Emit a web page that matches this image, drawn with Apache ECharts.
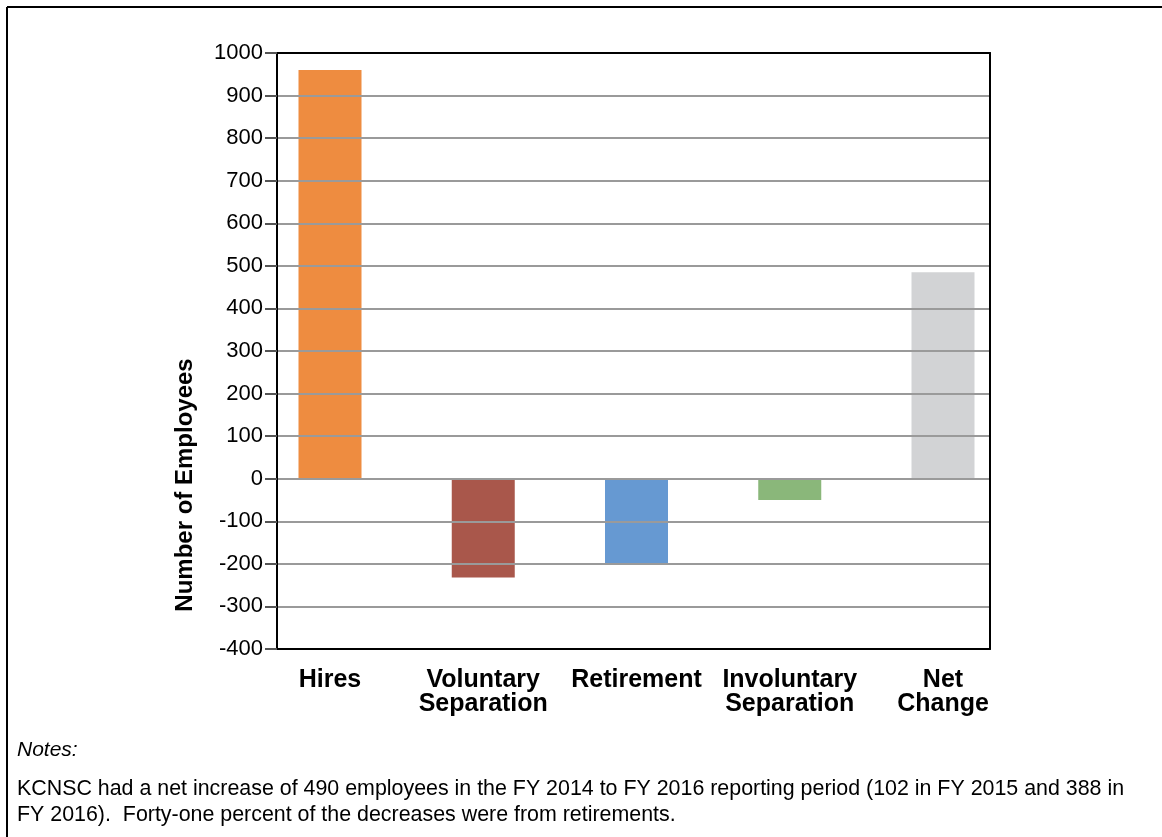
<!DOCTYPE html>
<html>
<head>
<meta charset="utf-8">
<script src="https://cdn.jsdelivr.net/npm/echarts@6/dist/echarts.min.js"></script>
<style>
    html, body { margin: 0; padding: 0; background: #fff; }
    #chart { width: 1162px; height: 837px; }
</style>
</head>
<body>
<div id="chart"></div>
<script>
// data
const categories = ['Hires', 'Voluntary\nSeparation', 'Retirement', 'Involuntary\nSeparation', 'Net\nChange'];
const values     = [960, -232, -200, -50, 485];
const barColors  = ['#ee8c40', '#a9574b', '#6699d2', '#8ab77a', '#d2d3d5'];
const yTicks     = { min: -400, max: 1000, step: 100 };

const notesTitle = 'Notes:';
const notesLines = [
    'KCNSC had a net increase of 490 employees in the FY 2014 to FY 2016 reporting period (102 in FY 2015 and 388 in',
    'FY 2016).  Forty-one percent of the decreases were from retirements.'
];

const chart = echarts.init(document.getElementById('chart'), null, { renderer: 'canvas' });

const font = 'Liberation Sans, Arial, sans-serif';
const frameLine = { show: true, onZero: false, lineStyle: { color: '#000', width: 2 } };

chart.setOption({
    animation: false,
    textStyle: { fontFamily: font },
    grid: [
        // frame with gridlines
        { left: 277, right: 172, top: 53, bottom: 188 },
        // bars, centred where the reference puts them
        { left: 330, right: 219, top: 53, bottom: 188 }
    ],
    xAxis: [
        { gridIndex: 0, type: 'category', data: categories, position: 'bottom', z: 5,
          axisLine: frameLine, axisTick: { show: false }, axisLabel: { show: false } },
        { gridIndex: 0, type: 'category', data: categories, position: 'top', z: 5,
          axisLine: frameLine, axisTick: { show: false }, axisLabel: { show: false } },
        {
            gridIndex: 1, type: 'category', data: categories, boundaryGap: false,
            axisLine: { show: false }, axisTick: { show: false },
            axisLabel: { color: '#000', fontSize: 25, fontWeight: 'bold', lineHeight: 24, margin: 19, interval: 0 }
        }
    ],
    yAxis: [
        {
            gridIndex: 0, type: 'value', min: yTicks.min, max: yTicks.max, interval: yTicks.step, z: 5,
            axisLine: frameLine,
            axisTick: { show: true, length: 12, lineStyle: { color: '#555', width: 2 } },
            axisLabel: { color: '#000', fontSize: 22, margin: 14, formatter: v => String(v) },
            splitLine: { lineStyle: { color: '#9a9a9a', width: 2 } }
        },
        { gridIndex: 0, type: 'value', min: yTicks.min, max: yTicks.max, interval: yTicks.step, position: 'right', z: 5,
          axisLine: frameLine, axisTick: { show: false }, axisLabel: { show: false }, splitLine: { show: false } },
        { gridIndex: 1, type: 'value', min: yTicks.min, max: yTicks.max, interval: yTicks.step, show: false, splitLine: { show: false } }
    ],
    series: [{
        type: 'bar',
        xAxisIndex: 2, yAxisIndex: 2,
        barWidth: 63,
        data: values.map((v, i) => ({ value: v, itemStyle: { color: barColors[i] } }))
    }],
    graphic: [
        { type: 'line', shape: { x1: 7, y1: 7, x2: 1162, y2: 7 }, style: { stroke: '#000', lineWidth: 2 } },
        { type: 'line', shape: { x1: 7, y1: 7, x2: 7, y2: 837 }, style: { stroke: '#000', lineWidth: 2 } },
        {
            type: 'text', x: 185, y: 485, rotation: Math.PI / 2,
            style: { text: 'Number of Employees', font: 'bold 24px ' + font, fill: '#000', align: 'center', verticalAlign: 'middle' }
        },
        { type: 'text', x: 17, y: 750, style: { text: notesTitle, font: 'italic 21px ' + font, fill: '#000', verticalAlign: 'middle' } },
        { type: 'text', x: 17, y: 789, style: { text: notesLines[0], font: '21.4px ' + font, fill: '#000', verticalAlign: 'middle' } },
        { type: 'text', x: 17, y: 815, style: { text: notesLines[1], font: '21.4px ' + font, fill: '#000', verticalAlign: 'middle' } }
    ]
});
</script>
</body>
</html>
